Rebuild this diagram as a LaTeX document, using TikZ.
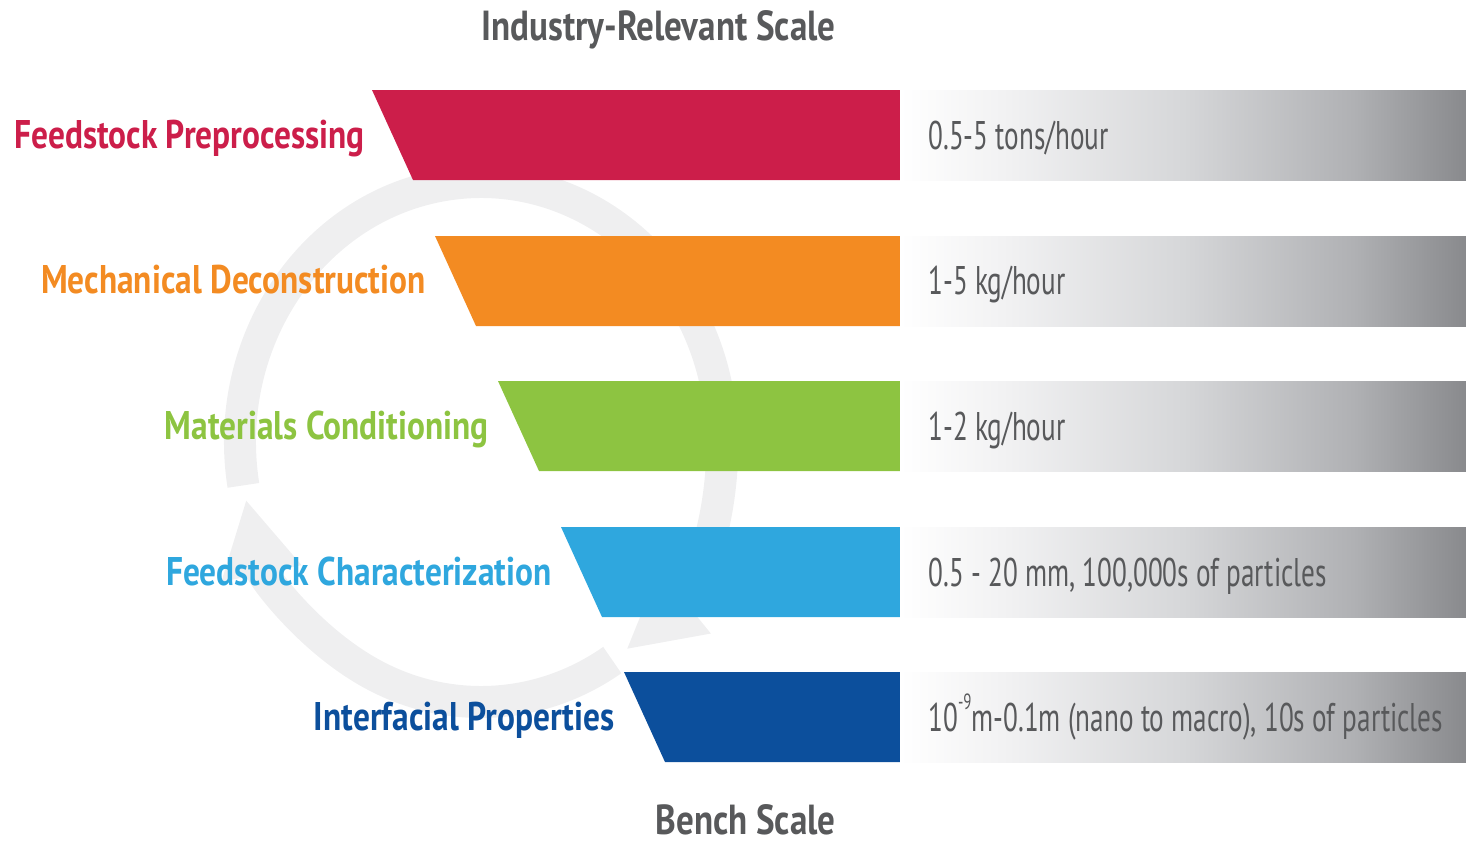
\documentclass[tikz,border=0pt]{standalone}
\usepackage{fontspec}
\setmainfont[FakeStretch=0.835]{PT Sans}
\newfontfamily\ratefont[FakeStretch=0.68]{PT Sans}
\usetikzlibrary{arrows.meta}

\definecolor{fpred}{HTML}{CC1E4A}
\definecolor{mdorange}{HTML}{F38B22}
\definecolor{mcgreen}{HTML}{8DC441}
\definecolor{fcblue}{HTML}{2FA7DE}
\definecolor{ipblue}{HTML}{0C4F9C}
\definecolor{txtgray}{HTML}{58595B}
\definecolor{ringgray}{HTML}{EFEFF0}
\definecolor{sb1}{HTML}{F2F2F3}
\definecolor{sb2}{HTML}{D6D7D9}
\definecolor{sb3}{HTML}{B0B1B4}
\definecolor{sb4}{HTML}{898A8D}

\pgfdeclarehorizontalshading{scalebar}{100bp}{color(0bp)=(white); color(25bp)=(white); color(34bp)=(sb1); color(50bp)=(sb2); color(65bp)=(sb3); color(75bp)=(sb4); color(100bp)=(sb4)}

\begin{document}
\begin{tikzpicture}[x=0.5pt,y=-0.5pt]
			\tikzstyle{stage}=[anchor=base east,inner sep=0pt,font=\fontsize{20}{24}\selectfont\bfseries]
			\tikzstyle{rate}=[anchor=base west,inner sep=0pt,text=txtgray,font=\fontsize{20}{24}\selectfont\ratefont]
			\tikzstyle{heading}=[anchor=base east,inner sep=0pt,text=txtgray,font=\fontsize{21}{25}\selectfont\bfseries]
			\tikzstyle{cycle}=[draw=ringgray,line width=16pt,-{Triangle[length=38pt,width=38pt]}]
			\tikzstyle{scalebar}=[shading=scalebar]

			\useasboundingbox (0,0) rectangle (1466,843);

			% background cycle
			\draw[cycle] (481,442) ++(170.4:241 and 260) arc[start angle=170.4,end angle=413,x radius=241,y radius=260];
			\draw[cycle] (481,442) ++(57:241 and 260) arc[start angle=57,end angle=167.3,x radius=241,y radius=260];

			\node[heading] (industry) at (836,40) {Industry-Relevant Scale};
			\node[heading] (bench) at (836,834) {Bench Scale};

			% feedstock preprocessing
			\fill[fpred] (372,90) -- (900,90) -- (900,180) -- (413,180) -- cycle;
			\shade[scalebar] (900,90) rectangle (1466,180);
			\node[stage,text=fpred] (prep) at (365,148) {Feedstock Preprocessing};
			\node[rate] (prepRate) at (928,149) {0.5-5 tons/hour};

			% mechanical deconstruction
			\fill[mdorange] (435,236) -- (900,236) -- (900,326) -- (476,326) -- cycle;
			\shade[scalebar] (900,236) rectangle (1466,326);
			\node[stage,text=mdorange] (decon) at (426,293) {Mechanical Deconstruction};
			\node[rate] (deconRate) at (928,294) {1-5 kg/hour};

			% materials conditioning
			\fill[mcgreen] (498,381) -- (900,381) -- (900,471) -- (539,471) -- cycle;
			\shade[scalebar] (900,381) rectangle (1466,471);
			\node[stage,text=mcgreen] (cond) at (489,439) {Materials Conditioning};
			\node[rate] (condRate) at (928,440) {1-2 kg/hour};

			% feedstock characterization
			\fill[fcblue] (561,527) -- (900,527) -- (900,617) -- (602,617) -- cycle;
			\shade[scalebar] (900,527) rectangle (1466,617);
			\node[stage,text=fcblue] (charac) at (552,585) {Feedstock Characterization};
			\node[rate] (characRate) at (928,586) {0.5 - 20 mm, 100,000s of particles};

			% interfacial properties
			\fill[ipblue] (624,672) -- (900,672) -- (900,762) -- (665,762) -- cycle;
			\shade[scalebar] (900,672) rectangle (1466,762);
			\node[stage,text=ipblue] (inter) at (615,730) {Interfacial Properties};
			\node[rate] (interRate) at (928,731) {10\raisebox{1.1ex}{\fontsize{11}{12}\selectfont-9}m-0.1m (nano to macro), 10s of particles};
\end{tikzpicture}
\end{document}
